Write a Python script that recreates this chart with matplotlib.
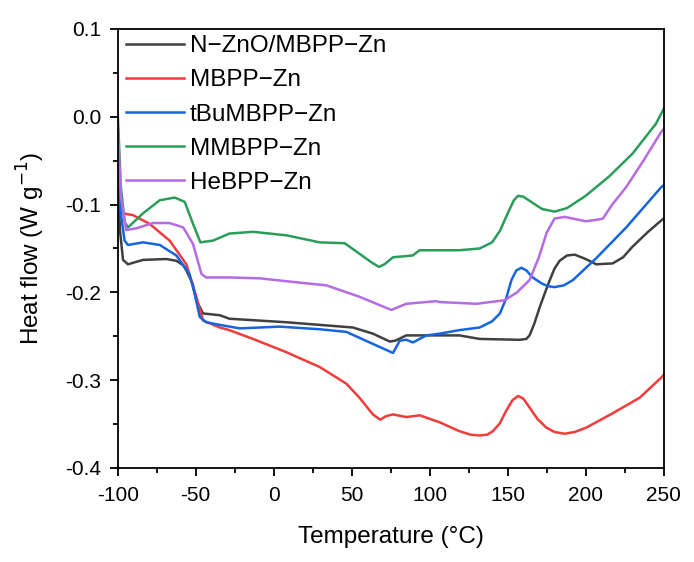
import matplotlib
matplotlib.use("Agg")
import matplotlib.pyplot as plt
from matplotlib.ticker import MultipleLocator

plt.rcParams['font.family'] = ['Liberation Sans', 'DejaVu Sans']

labels = ["N\u2212ZnO/MBPP\u2212Zn", "MBPP\u2212Zn", "tBuMBPP\u2212Zn", "MMBPP\u2212Zn", "HeBPP\u2212Zn"]
colors = ["#404040", "#f23b3b", "#1565e0", "#2a9d5a", "#b46be3"]

# N-ZnO/MBPP-Zn
x_black = [-100, -98.5, -96.6, -93.4, -83.8, -68.8, -62.4, -58, -56, -52, -49.6, -45.3, -34.6, -28.4, 8, 50.8, 63.6, 74.4, 78, 85, 106, 119, 132, 157.7, 162, 164,
           167, 170.5, 174, 177, 180, 183.3, 188, 193, 200, 206.8, 217.3, 224, 230, 240, 248.5, 250]
y_black = [-0.06, -0.13, -0.163, -0.168, -0.163, -0.162, -0.164, -0.169, -0.175, -0.19, -0.209, -0.224, -0.226, -0.230, -0.234, -0.240, -0.247, -0.256, -0.255, -0.249, -0.249, -0.249, -0.253, -0.254, -0.253, -0.249,
           -0.236, -0.217, -0.200, -0.186, -0.173, -0.164, -0.158, -0.157, -0.162, -0.168, -0.167, -0.160, -0.148, -0.131, -0.118, -0.116]

# MBPP-Zn
x_red = [-100, -98.5, -96.6, -90.2, -79.5, -66.7, -56, -49.6, -45.3, -34.6, -28.4, -13.3, 8, 29.5, 46.6, 55, 63.6, 68.3, 72, 76.5, 85, 93.6, 106.4, 119,
         126, 132, 137, 140.6, 145, 149, 153, 156.6, 160, 164, 169, 174.8, 180, 186.5, 193, 200.4, 217, 234.6, 248.5, 250]
y_red = [-0.03, -0.08, -0.110, -0.112, -0.122, -0.141, -0.168, -0.205, -0.232, -0.240, -0.243, -0.253, -0.268, -0.285, -0.304, -0.320, -0.339, -0.345, -0.341, -0.339, -0.342, -0.340, -0.348, -0.358,
         -0.362, -0.363, -0.362, -0.358, -0.349, -0.335, -0.323, -0.318, -0.321, -0.331, -0.344, -0.354, -0.359, -0.361, -0.359, -0.354, -0.338, -0.320, -0.297, -0.294]

# tBuMBPP-Zn
x_blue = [-100, -98, -95.6, -93.4, -83.8, -73, -62.4, -54, -50.6, -47.4, -43.3, -34.6, -21.8, 3.8, 29.5, 46.6, 61.5, 76.5, 80.8, 85, 89.3, 97.9, 106.4, 119,
          132, 140, 145, 149, 152.4, 155.5, 158.8, 162, 166, 172, 176, 180, 186, 191.8, 206.8, 226, 248.5, 250]
y_blue = [-0.05, -0.11, -0.141, -0.146, -0.143, -0.146, -0.158, -0.179, -0.202, -0.228, -0.234, -0.237, -0.241, -0.239, -0.242, -0.245, -0.257, -0.269, -0.255, -0.254, -0.257, -0.249, -0.247, -0.243,
          -0.240, -0.233, -0.224, -0.207, -0.186, -0.175, -0.172, -0.175, -0.183, -0.190, -0.193, -0.194, -0.192, -0.186, -0.161, -0.126, -0.080, -0.078]

# MMBPP-Zn
x_green = [-100, -98, -95.5, -93.4, -83.8, -73, -63.4, -57, -51.7, -47, -38.9, -28.4, -13.3, 8.1, 29.5, 45.5, 55, 62, 67.5, 71, 76.5, 89, 93.6, 119,
           132, 140, 145, 150, 154, 156.6, 160, 166, 172, 180.1, 188, 200, 215, 230, 245, 250]
y_green = [0.005, -0.08, -0.12, -0.126, -0.110, -0.095, -0.092, -0.097, -0.122, -0.143, -0.141, -0.133, -0.131, -0.135, -0.143, -0.144, -0.156, -0.165, -0.171, -0.168, -0.160, -0.158, -0.152, -0.152,
           -0.150, -0.143, -0.130, -0.110, -0.095, -0.090, -0.091, -0.098, -0.105, -0.108, -0.104, -0.090, -0.068, -0.042, -0.008, 0.009]

# HeBPP-Zn
x_purple = [-100, -98, -94.6, -88, -77.4, -66.7, -58, -51.7, -46.3, -43.3, -28.4, -9, 12, 33.8, 55, 75.4, 85, 104, 106.4, 130, 148,
            156, 164, 170, 175, 180, 186.5, 200, 208, 211, 217, 226, 237, 248.5, 250]
y_purple = [-0.01, -0.09, -0.129, -0.127, -0.121, -0.121, -0.126, -0.145, -0.179, -0.183, -0.183, -0.184, -0.188, -0.192, -0.205, -0.220, -0.213, -0.210, -0.211, -0.213, -0.209,
            -0.200, -0.186, -0.160, -0.132, -0.116, -0.114, -0.119, -0.117, -0.116, -0.100, -0.080, -0.050, -0.017, -0.014]

xs = [x_black, x_red, x_blue, x_green, x_purple]
ys = [y_black, y_red, y_blue, y_green, y_purple]

fig = plt.figure(figsize=(6.94, 5.62), dpi=100)
ax = fig.add_axes([0.1696, 0.1673, 0.7867, 0.7811])

for x, y, c, lab in zip(xs, ys, colors, labels):
    ax.plot(x, y, color=c, lw=1.8, label=lab, solid_joinstyle='round')

ax.set_xlim(-100, 250)
ax.set_ylim(-0.4, 0.1)
ax.xaxis.set_minor_locator(MultipleLocator(25))
ax.yaxis.set_minor_locator(MultipleLocator(0.05))
ax.set_xticks([-100, -50, 0, 50, 100, 150, 200, 250])
ax.set_xticklabels(["-100", "-50", "0", "50", "100", "150", "200", "250"])
ax.set_yticks([-0.4, -0.3, -0.2, -0.1, 0.0, 0.1])
ax.set_yticklabels(["-0.4", "-0.3", "-0.2", "-0.1", "0.0", "0.1"])
ax.tick_params(which='both', direction='out', top=False, right=False, width=1.3, labelsize=15)
ax.tick_params(which='major', length=6)
ax.tick_params(which='minor', length=3.5)
ax.tick_params(axis='x', which='major', pad=7)
ax.tick_params(axis='y', which='major', pad=6)
for s in ax.spines.values():
    s.set_linewidth(1.3)

ax.set_xlabel("Temperature (\u00b0C)", fontsize=17.5, labelpad=15)
ax.set_ylabel("Heat flow (W g$^{\u22121}$)", fontsize=17.5, labelpad=13)

ax.legend(loc='upper left', frameon=False, fontsize=17.5, handlelength=2.39,
          handletextpad=0.25, labelspacing=0.5, borderaxespad=0.0, borderpad=0.33,
          bbox_to_anchor=(0.0, 1.004))

fig.savefig("out.png", dpi=100)
